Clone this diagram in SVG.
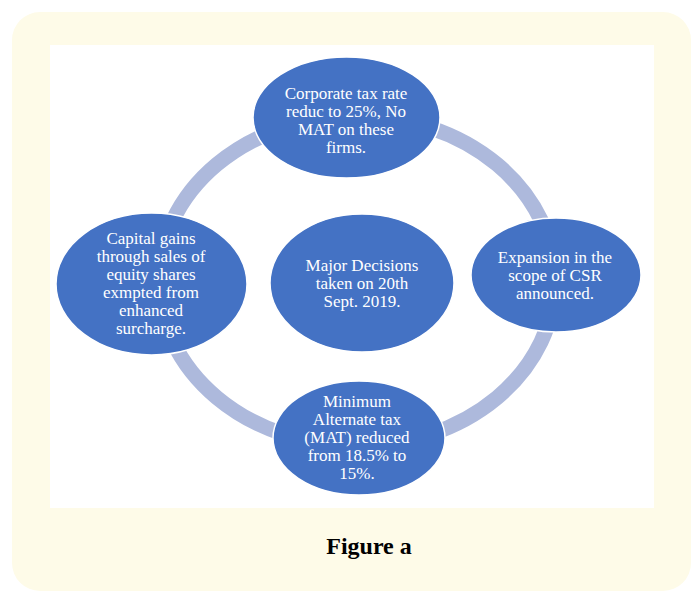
<svg xmlns="http://www.w3.org/2000/svg" width="695" height="595" viewBox="0 0 695 595">
<style>
.node{fill:#4472c4;stroke:#ffffff;stroke-width:1.5}
.t{font-family:"Liberation Serif","Times New Roman",serif;font-size:17px;fill:#ffffff;text-anchor:middle}
.ring{fill:none;stroke:#adb9dc;stroke-width:15}
</style>
<rect x="12" y="12" width="679" height="579" rx="28" fill="#fefbe8"/>
<rect x="50" y="45" width="604" height="463" fill="#ffffff"/>
<g id="connectors">
<ellipse class="ring" cx="357" cy="281" rx="198" ry="165"/>
</g>
<g id="node-top">
<ellipse class="node" cx="346.5" cy="117.5" rx="93.5" ry="60.5"/>
<text class="t" x="346" y="99">Corporate tax rate</text>
<text class="t" x="346" y="117">reduc to 25%, No</text>
<text class="t" x="346" y="135">MAT on these</text>
<text class="t" x="346" y="153">firms.</text>
</g>
<g id="node-left">
<ellipse class="node" cx="151.5" cy="284" rx="95.5" ry="71"/>
<text class="t" x="151" y="244">Capital gains</text>
<text class="t" x="151" y="262">through sales of</text>
<text class="t" x="151" y="280">equity shares</text>
<text class="t" x="151" y="298">exmpted from</text>
<text class="t" x="151" y="316">enhanced</text>
<text class="t" x="151" y="334">surcharge.</text>
</g>
<g id="node-center">
<ellipse class="node" cx="362" cy="283" rx="92" ry="69"/>
<text class="t" x="362" y="271">Major Decisions</text>
<text class="t" x="362" y="289">taken on 20th</text>
<text class="t" x="362" y="307">Sept. 2019.</text>
</g>
<g id="node-right">
<ellipse class="node" cx="556" cy="275" rx="85" ry="57"/>
<text class="t" x="555" y="263">Expansion in the</text>
<text class="t" x="555" y="281">scope of CSR</text>
<text class="t" x="555" y="299">announced.</text>
</g>
<g id="node-bottom">
<ellipse class="node" cx="359" cy="438" rx="86" ry="57"/>
<text class="t" x="357" y="407">Minimum</text>
<text class="t" x="357" y="425">Alternate tax</text>
<text class="t" x="357" y="443">(MAT) reduced</text>
<text class="t" x="357" y="461">from 18.5% to</text>
<text class="t" x="357" y="479">15%.</text>
</g>
<text x="369" y="554" font-family="Liberation Serif, serif" font-weight="bold" font-size="24" text-anchor="middle" fill="#000000">Figure a</text>
</svg>
